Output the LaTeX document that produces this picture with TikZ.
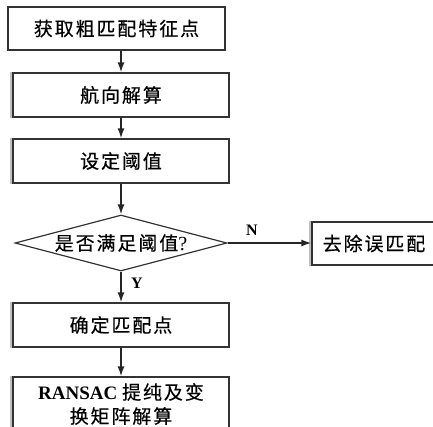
\documentclass[tikz,border=0pt]{standalone}
\usepackage{fontspec}
\setmainfont{Liberation Serif}
\newfontfamily\cjk[LetterSpace=10,FakeBold=0.4]{Noto Sans CJK SC}
\usetikzlibrary{shapes.geometric,arrows.meta}
\tikzset{
  flowbox/.style={draw=black!80, line width=1.3pt, rectangle, inner sep=0pt,
    font=\cjk\fontsize{19}{24}\selectfont, align=center},
  flowdia/.style={draw=black!80, line width=1.2pt, diamond, inner sep=0pt,
    aspect=3.79, minimum width=212pt, minimum height=56pt,
    font=\cjk\fontsize{19}{24}\selectfont},
  flowarrow/.style={draw=black!85, line width=1.5pt, -{Latex[length=10pt,width=7pt]}},
  yn/.style={font=\bfseries\fontsize{16}{16}\selectfont}
}
\begin{document}
\begin{tikzpicture}[x=1pt,y=-1pt]
\useasboundingbox (0,0) rectangle (433,426);
\node[flowbox, minimum width=217pt, minimum height=43pt] (b1) at (116.5,28.5) {获取粗匹配特征点};
\node[flowbox, minimum width=216pt, minimum height=44pt] (b2) at (121,95) {航向解算};
\node[flowbox, minimum width=216pt, minimum height=44pt] (b3) at (121,161) {设定阈值};
\node[flowdia, inner xsep=-10pt] (d) at (121,243) {是否满足阈值{\rmfamily\fontsize{20}{24}\selectfont ?}};
\node[flowbox, minimum width=124pt, minimum height=43pt] (r) at (374,243.5) {去除误匹配};
\node[flowbox, minimum width=216pt, minimum height=44pt] (b4) at (121,325) {确定匹配点};
\node[flowbox, minimum width=216pt, minimum height=54pt, font=\fontsize{19}{24}\selectfont] (b5) at (121,404) {{\bfseries RANSAC} {\cjk 提纯及变}\\{\cjk 换矩阵解算}};
\foreach \n in {b2,b3,b4,b5,r} {
  \draw[black!25, line width=1.5pt] ([xshift=-1.4pt]\n.north west) -- ([xshift=-1.4pt]\n.south west);
}
\draw[flowarrow] (b1.south -| b2.north) -- (b2.north);
\draw[flowarrow] (b2) -- (b3);
\draw[flowarrow] (b3) -- (d.north);
\draw[flowarrow] (d.east) -- (r.west |- d.east);
\draw[flowarrow] (d.south) -- (b4.north);
\draw[flowarrow] (b4) -- (b5);
\node[yn] (nl) at (252,230) {N};
\node[yn] (yl) at (137,283) {Y};
\end{tikzpicture}
\end{document}
